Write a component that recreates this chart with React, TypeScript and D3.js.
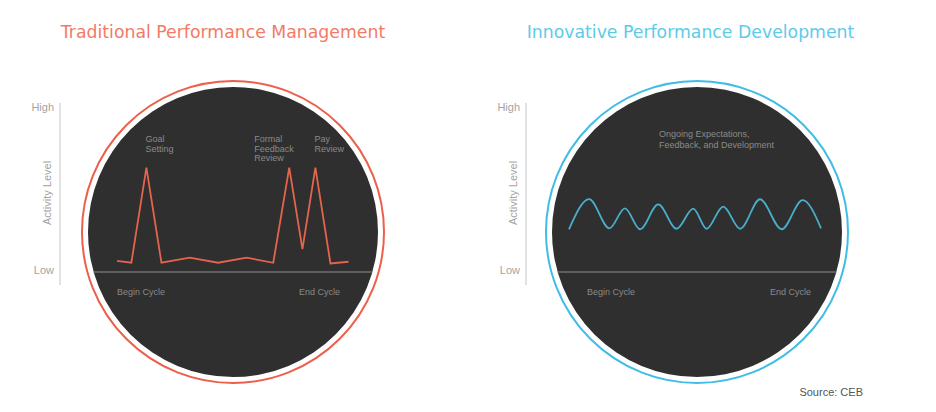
import React from "react";
import * as d3 from "d3";

// Traditional: activity over the cycle (x: 0=begin..100=end, y: 0=low..100=high)
const tradX = [0, 6.2, 12.7, 19.2, 31.4, 43.7, 56.0, 67.5, 74.4, 80.1, 85.7, 92.2, 100];
const tradY = [6.8, 5.6, 63.2, 5.6, 8.7, 5.6, 8.7, 5.6, 63.2, 13.8, 63.2, 5.2, 6.2];

// Innovative: ongoing wave
const innoX = [0, 8, 16, 22.2, 28.2, 35.4, 42.7, 49.3, 54.6, 61.2, 67.9, 75.8, 84.4, 92.7, 100];
const innoY = [25.9, 44.2, 26.5, 38.6, 25.9, 41.0, 26.2, 38.4, 26.2, 39.6, 26.2, 44.1, 25.9, 43.6, 26.5];

const titles = ["Traditional Performance Management", "Innovative Performance Development"];
const yTicks = ["High", "Low"];
const xLabels = ["Begin Cycle", "End Cycle"];
const tradEvents = [
  { x: 12.7, lines: ["Goal", "Setting"] },
  { x: 74.4, lines: ["Formal", "Feedback", "Review"] },
  { x: 85.7, lines: ["Pay", "Review"] },
];
const innoNote = ["Ongoing Expectations,", "Feedback, and Development"];
const source = "Source: CEB";

const yScale = d3.scaleLinear().domain([0, 100]).range([272, 107]);

function Panel(props: {
  cx: number;
  titleX: number;
  ringColor: string;
  lineColor: string;
  titleColor: string;
  title: string;
  axisX: number;
  xs: number[];
  ys: number[];
  xRange: [number, number];
  curve: any;
  beginX: number;
  endX: number;
  children?: any;
}) {
  const { cx, titleX, ringColor, lineColor, titleColor, title, axisX, xs, ys, xRange, curve, beginX, endX } = props;
  const cy = 232;
  const rDark = 145;
  const xScale = d3.scaleLinear().domain([0, 100]).range(xRange);
  const line = d3
    .line<number>()
    .x((_, i) => xScale(xs[i]))
    .y((d) => yScale(d))
    .curve(curve);
  const baseY = yScale(0);
  const half = Math.sqrt(rDark * rDark - (baseY - cy) * (baseY - cy));
  return (
    <g>
      <text
        x={titleX}
        y={38}
        textAnchor="middle"
        fontFamily="DejaVu Sans, Verdana, sans-serif"
        fontSize={17.3}
        fill={titleColor}
      >
        {title}
      </text>
      <circle cx={cx} cy={cy} r={151} fill="none" stroke={ringColor} strokeWidth={2} />
      <circle cx={cx} cy={cy} r={rDark} fill="#2f2f2f" />
      <line x1={cx - half} x2={cx + half} y1={baseY} y2={baseY} stroke="#6f6f6f" strokeWidth={1.5} />
      <line x1={axisX} x2={axisX} y1={103} y2={285} stroke="#cfcfcf" strokeWidth={1.2} />
      <text x={axisX - 6} y={yScale(100) + 4} textAnchor="end" fontFamily="Liberation Sans, Arial, sans-serif" fontSize={11} fill="#a4a4a4">
        {yTicks[0]}
      </text>
      <text x={axisX - 6} y={yScale(0) + 2} textAnchor="end" fontFamily="Liberation Sans, Arial, sans-serif" fontSize={11} fill="#a4a4a4">
        {yTicks[1]}
      </text>
      <text
        transform={`translate(${axisX - 9},193) rotate(-90)`}
        textAnchor="middle"
        fontFamily="Liberation Sans, Arial, sans-serif"
        fontSize={11}
        fill="#a4a4a4"
      >
        Activity Level
      </text>
      <text x={beginX} y={295} fontFamily="Liberation Sans, Arial, sans-serif" fontSize={9} fill="#8a8a8a">
        {xLabels[0]}
      </text>
      <text x={endX} y={295} textAnchor="end" fontFamily="Liberation Sans, Arial, sans-serif" fontSize={9} fill="#8a8a8a">
        {xLabels[1]}
      </text>
      <path d={line(ys) || ""} fill="none" stroke={lineColor} strokeWidth={1.8} strokeLinejoin="miter" />
      {props.children}
    </g>
  );
}

export default function App() {
  const tradXScale = d3.scaleLinear().domain([0, 100]).range([117, 348.5]);
  return (
    <svg width={936} height={412} style={{ position: "absolute", left: 0, top: 0, background: "#fff" }}>
      <Panel
        cx={233}
        titleX={223}
        ringColor="#ec5f4a"
        lineColor="#e4644d"
        titleColor="#f47a66"
        title={titles[0]}
        axisX={60}
        xs={tradX}
        ys={tradY}
        xRange={[117, 348.5]}
        curve={d3.curveLinear}
        beginX={117}
        endX={340}
      >
        {tradEvents.map((ev, i) => (
          <text key={i} fontFamily="Liberation Sans, Arial, sans-serif" fontSize={9} fill="#8a8a8a">
            {ev.lines.map((l, j) => (
              <tspan key={j} x={tradXScale(ev.x) - 1 - (i === 1 ? 34 : 0)} y={142 + j * 9.7}>
                {l}
              </tspan>
            ))}
          </text>
        ))}
      </Panel>
      <Panel
        cx={697}
        titleX={690.5}
        ringColor="#3fbde6"
        lineColor="#4aaecb"
        titleColor="#5ccbea"
        title={titles[1]}
        axisX={526}
        xs={innoX}
        ys={innoY}
        xRange={[569, 821]}
        curve={d3.curveMonotoneX}
        beginX={587}
        endX={811}
      >
        <text fontFamily="Liberation Sans, Arial, sans-serif" fontSize={9} fill="#8a8a8a">
          {innoNote.map((l, j) => (
            <tspan key={j} x={659} y={137 + j * 11}>
              {l}
            </tspan>
          ))}
        </text>
      </Panel>
      <text x={863} y={396} textAnchor="end" fontFamily="Liberation Sans, Arial, sans-serif" fontSize={11} fill="#555">
        {source}
      </text>
    </svg>
  );
}
